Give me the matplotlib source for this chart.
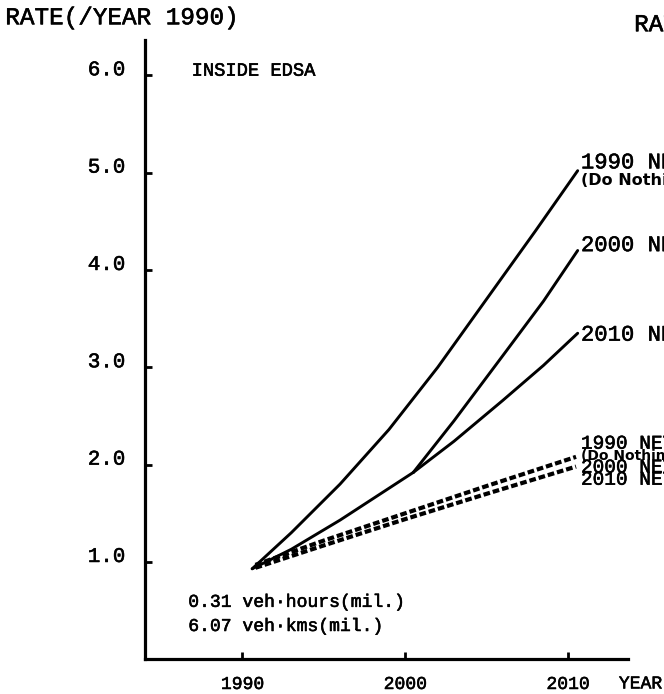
import matplotlib
matplotlib.use('Agg')
import matplotlib.pyplot as plt
import matplotlib.patheffects as pe

# (rate relative to 1990)
ni1990_years = [1990.6, 1993.0, 1996.0, 1999.0, 2002.0, 2005.0, 2008.0, 2010.6]
ni1990_rate = [0.93, 1.30, 1.80, 2.36, 3.00, 3.70, 4.40, 5.02]

base_years = [1990.6, 1993.0, 1996.0, 2000.5]
base_rate = [0.93, 1.13, 1.43, 1.92]

ni2000_years = [2000.5, 2003.0, 2006.0, 2008.5, 2010.6]
ni2000_rate = [1.92, 2.45, 3.12, 3.68, 4.20]

ni2010_years = [2000.5, 2003.0, 2006.0, 2008.5, 2010.6]
ni2010_rate = [1.92, 2.24, 2.66, 3.02, 3.35]

dn_years = [1990.8, 1995.0, 2000.0, 2005.0, 2010.5]
dn_upper = [0.97, 1.22, 1.50, 1.78, 2.08]
dn_lower = [0.94, 1.17, 1.44, 1.70, 1.98]

xticks = [1990, 2000, 2010]
yticks = [1.0, 2.0, 3.0, 4.0, 5.0, 6.0]

mono = 'Liberation Mono'
ink = [pe.withStroke(linewidth=0.4, foreground='black')]

def txt(size):
    return dict(fontfamily=mono, fontsize=size, path_effects=ink)

fig = plt.figure(figsize=(6.64, 6.94), dpi=100)
ax = fig.add_axes([0.218, 0.05, 0.728, 0.892])

for xs, ys in [(ni1990_years, ni1990_rate), (base_years, base_rate),
               (ni2000_years, ni2000_rate), (ni2010_years, ni2010_rate)]:
    ax.plot(xs, ys, color='black', lw=2.1, solid_capstyle='round')
ax.plot(dn_years, dn_upper, color='black', lw=3, linestyle=(0, (1.6, 0.7)))
ax.plot(dn_years, dn_lower, color='black', lw=3, linestyle=(0, (1.6, 0.7)))

ax.set_xlim(1984.0, 2013.7)
ax.set_ylim(0, 6.36)
for s in ['top', 'right']:
    ax.spines[s].set_visible(False)
for s in ['left', 'bottom']:
    ax.spines[s].set_linewidth(2.3)

ax.set_xticks(xticks)
ax.set_xticklabels([str(x) for x in xticks], **txt(13))
ax.set_yticks(yticks)
ax.set_yticklabels(['%.1f' % y for y in yticks], va='baseline', **txt(15))
ax.tick_params(axis='both', direction='in', length=5, width=2)
ax.tick_params(axis='y', pad=14)
ax.tick_params(axis='x', pad=12)

fig.text(0.008, 0.965, 'RATE(/YEAR 1990)', **txt(17.5))
fig.text(0.955, 0.955, 'RATE(/YEAR 1990)', **txt(17.5))
fig.text(0.932, 0.008, 'YEAR', **txt(13))

ax.text(0.097, 0.95, 'INSIDE EDSA', transform=ax.transAxes, va='center', **txt(13.5))
ax.text(0.09, 0.092, '0.31 veh\u00b7hours(mil.)', transform=ax.transAxes,
        va='center', **txt(13))
ax.text(0.09, 0.053, '6.07 veh\u00b7kms(mil.)', transform=ax.transAxes,
        va='center', **txt(13))

lx = 2010.8
ax.text(lx, 5.1, '1990 NETWORK', va='center', clip_on=False, **txt(16))
ax.text(lx, 4.92, '(Do Nothing)', fontfamily='DejaVu Sans', fontweight='bold',
        fontsize=11.5, va='center', clip_on=False)
ax.text(lx, 4.25, '2000 NETWORK', va='center', clip_on=False, **txt(16))
ax.text(lx, 3.33, '2010 NETWORK', va='center', clip_on=False, **txt(16))

ax.text(lx, 2.21, '1990 NETWORK', va='center', clip_on=False, **txt(14))
ax.text(lx, 2.085, '(Do Nothing)', fontfamily='DejaVu Sans', fontweight='bold',
        fontsize=10, va='center', clip_on=False)
ax.text(lx, 1.965, '2000 NETWORK', va='center', clip_on=False, **txt(14))
ax.text(lx, 1.84, '2010 NETWORK', va='center', clip_on=False, **txt(14))

fig.savefig('out.png', dpi=100)
